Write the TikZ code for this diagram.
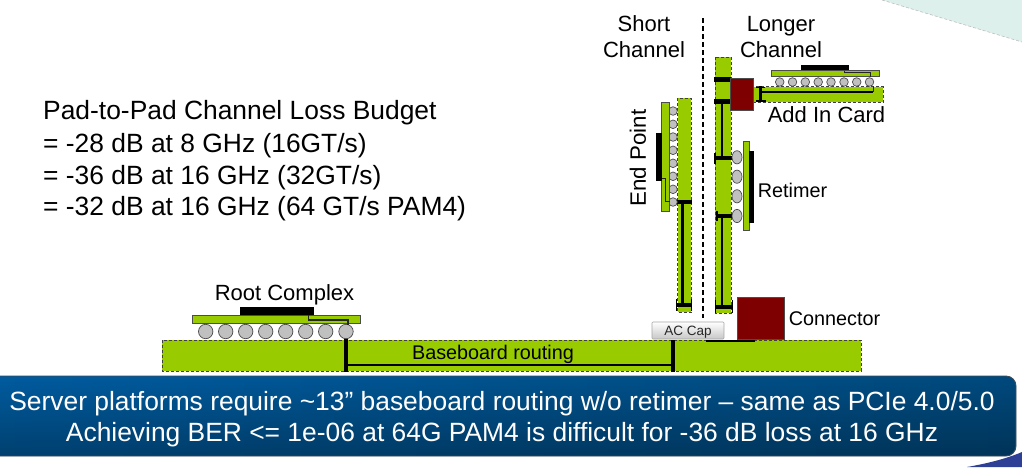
\documentclass[tikz,border=0pt]{standalone}
\usepackage{fontspec}
\usetikzlibrary{fadings}
\setmainfont{Liberation Sans}
\definecolor{pcbgreen}{HTML}{99CC00}
\definecolor{conred}{HTML}{7F0000}
\definecolor{ballgray}{HTML}{C0C0C0}
\definecolor{bannerleft}{HTML}{005CA0}
\definecolor{bannerright}{HTML}{004A7E}
\definecolor{bannerline}{HTML}{3C4A58}
\definecolor{cornerblue}{HTML}{2E4096}
\definecolor{cornerteal}{HTML}{DDF0EC}
\tikzset{
  board/.style={fill=pcbgreen,draw=black!75,densely dashed,line width=0.7pt},
  pkg/.style={fill=pcbgreen,draw=black!70,line width=0.8pt},
  die/.style={fill=black},
  ball/.style={fill=ballgray,draw=black!70,line width=0.7pt},
  conn/.style={fill=conred,draw=black!70,line width=0.6pt},
  thick trace/.style={draw=black,line width=4.4pt},
  thin trace/.style={draw=black,line width=2.3pt},
  pkg trace/.style={draw=black!85,line width=0.9pt},
  label/.style={inner sep=0pt,anchor=base,text=black,font=\fontsize{22}{26}\selectfont},
  small label/.style={inner sep=0pt,anchor=base,text=black,font=\fontsize{19.8}{24}\selectfont},
  budget/.style={inner sep=0pt,anchor=base west,text=black,font=\fontsize{26.4}{30}\selectfont},
  banner text/.style={inner sep=0pt,anchor=base,text=white,font=\fontsize{26.4}{30}\selectfont},
}
\begin{document}
\begin{tikzpicture}[x=1pt,y=-1pt]
\useasboundingbox (0,0) rectangle (1022,467);
\fill[white] (0,0) rectangle (1022,467);
% corner decorations
\fill[cornerteal] (882,0) -- (1022,42) -- (1022,0) -- cycle;
\draw[black!25,densely dashed,line width=0.6pt] (882,0) -- (1022,42);
\fill[cornerblue] (967,467) .. controls (990,463) and (1008,458) .. (1022,452) -- (1022,467) -- cycle;

% budget text
\node[budget] (t1) at (43,119.5) {Pad-to-Pad Channel Loss Budget};
\node[budget] (t2) at (43,152) {= -28 dB at 8 GHz (16GT/s)};
\node[budget] (t3) at (43,184) {= -36 dB at 16 GHz (32GT/s)};
\node[budget] (t4) at (43,215) {= -32 dB at 16 GHz (64 GT/s PAM4)};

% headings and divider
\node[label] (short1) at (644,31) {Short};
\node[label] (short2) at (644,57.5) {Channel};
\node[label] (long1) at (781,31) {Longer};
\node[label] (long2) at (781,57.5) {Channel};
\draw[black,line width=1.8pt,dash pattern=on 5pt off 3pt] (703,18) -- (703,318);

% baseboard
\path[board] (162,340) rectangle (861,371);
\draw[thick trace,line width=4.5pt] (346,337) -- (346,372);
\draw[thick trace,line width=4pt] (673,340) -- (673,372);
\draw[thin trace] (346,365) -- (673,365);
\draw[thin trace,line width=2.4pt] (706,340.7) -- (755,340.7);
\node[small label] (bb) at (493,359.5) {Baseboard routing};

% root complex
\foreach \x in {205.7,225.7,245.7,265.7,285.7,305.7,325.7,346}
  \path[ball] (\x,331.5) circle (7.2);
\path[pkg] (192.7,315) rectangle (360,323.7);
\path[die] (239.5,307) rectangle (313.5,315);
\draw[pkg trace,line width=1.2pt] (308.3,315) -- (308.3,320) -- (348,320) -- (348,325);
\node[label] (rc) at (284.5,300) {Root Complex};

% connector at the baseboard and AC cap
\path[conn] (737,297) rectangle (784,339);
\node[small label] (conlab) at (834.5,325) {Connector};
\shade[top color=white,bottom color=black!22,draw=black!35,line width=0.6pt,rounded corners=1pt] (652,322) rectangle (724,339);
\node[inner sep=0pt,anchor=base,text=black!85,font=\fontsize{13.5}{16}\selectfont] (ac) at (688,335.5) {AC Cap};

% short channel card
\path[board] (677.5,98) rectangle (691,312);
\draw[thin trace] (682.5,202) -- (682.5,303);
\draw[thick trace] (676,202) -- (692,202);
\draw[thick trace,line width=4pt] (676,305) -- (692,305);
\draw[thick trace,line width=1.8pt] (676.5,299) -- (676.5,311);
\draw[thick trace,line width=1.8pt] (691.5,299) -- (691.5,311);
\foreach \y in {111,124.3,137,150.3,163.3,176.3,189.3,202}
  \path[ball] (673,\y) circle (4.3);
\path[pkg] (661,102.5) rectangle (669,211);
\path[die] (656,133) rectangle (661.5,181);
\draw[pkg trace] (661.5,178) -- (665,178) -- (665,201.7) -- (670,201.7);
\node[inner sep=0pt,text=black,font=\fontsize{22.3}{26}\selectfont,rotate=90] (ep) at (638,158) {End Point};

% longer channel card
\path[board] (715,57) rectangle (731,313);
\draw[thin trace] (722,101) -- (722,158);
\draw[thin trace] (722,216) -- (722,305);
\draw[thick trace] (714,79.5) -- (731,79.5);
\draw[thick trace] (714,101.5) -- (731,101.5);
\draw[thick trace] (714,158) -- (733,158);
\draw[thick trace] (716,216) -- (733,216);
\draw[thick trace,line width=2pt] (715,153) -- (715,164);
\draw[thick trace,line width=2pt] (716.5,211) -- (716.5,221);
\draw[thick trace,line width=4pt] (715,307) -- (733,307);
\draw[thick trace,line width=1.8pt] (715.5,300) -- (715.5,313);
\draw[thick trace,line width=1.8pt] (732.5,300) -- (732.5,313);

% retimer
\foreach \y in {157.3,176.7,196.3,216}
  \path[ball] (737,\y) ellipse (5 and 6.6);
\path[pkg] (743.3,141) rectangle (749,230);
\path[die] (749,151) rectangle (754,222.5);
\node[small label] (ret) at (792.5,197.5) {Retimer};

% add in card
\path[board] (753,86.5) rectangle (883,102);
\draw[thin trace] (760,92) -- (873,92);
\draw[pkg trace] (873,86) -- (873,92);
\draw[thick trace,line width=2.6pt] (760.5,86) -- (760.5,102);
\draw[thick trace,line width=1.8pt] (756,87.5) -- (765,87.5);
\draw[thick trace,line width=1.8pt] (756,101.2) -- (766,101.2);
\foreach \x in {779.7,792.5,805.3,818.2,831,844,856.7,869.5}
  \path[ball] (\x,82) circle (4.3);
\path[pkg] (771,70) rectangle (879,76.5);
\path[die] (801,65) rectangle (849,70);
\draw[pkg trace] (844,70.5) -- (844,72.7) -- (870,72.7) -- (870,77);
\path[conn] (730.5,78) rectangle (753,110);
\node[label] (aic) at (826.5,122.5) {Add In Card};

% banner
\shade[left color=bannerleft,right color=bannerright,rounded corners=10pt] (-14,376) rectangle (1016,456);
\fill[black,path fading=north,opacity=0.3,rounded corners=10pt] (-14,376) rectangle (1016,456);
\draw[bannerline,line width=0.9pt,rounded corners=10pt] (-14,376) rectangle (1016,456);
\node[banner text] (b1) at (502,410.7) {Server platforms require \char`\~13” baseboard routing w/o retimer – same as PCIe 4.0/5.0};
\node[banner text] (b2) at (502,441.5) {Achieving BER <= 1e-06 at 64G PAM4 is difficult for -36 dB loss at 16 GHz};
\end{tikzpicture}
\end{document}
